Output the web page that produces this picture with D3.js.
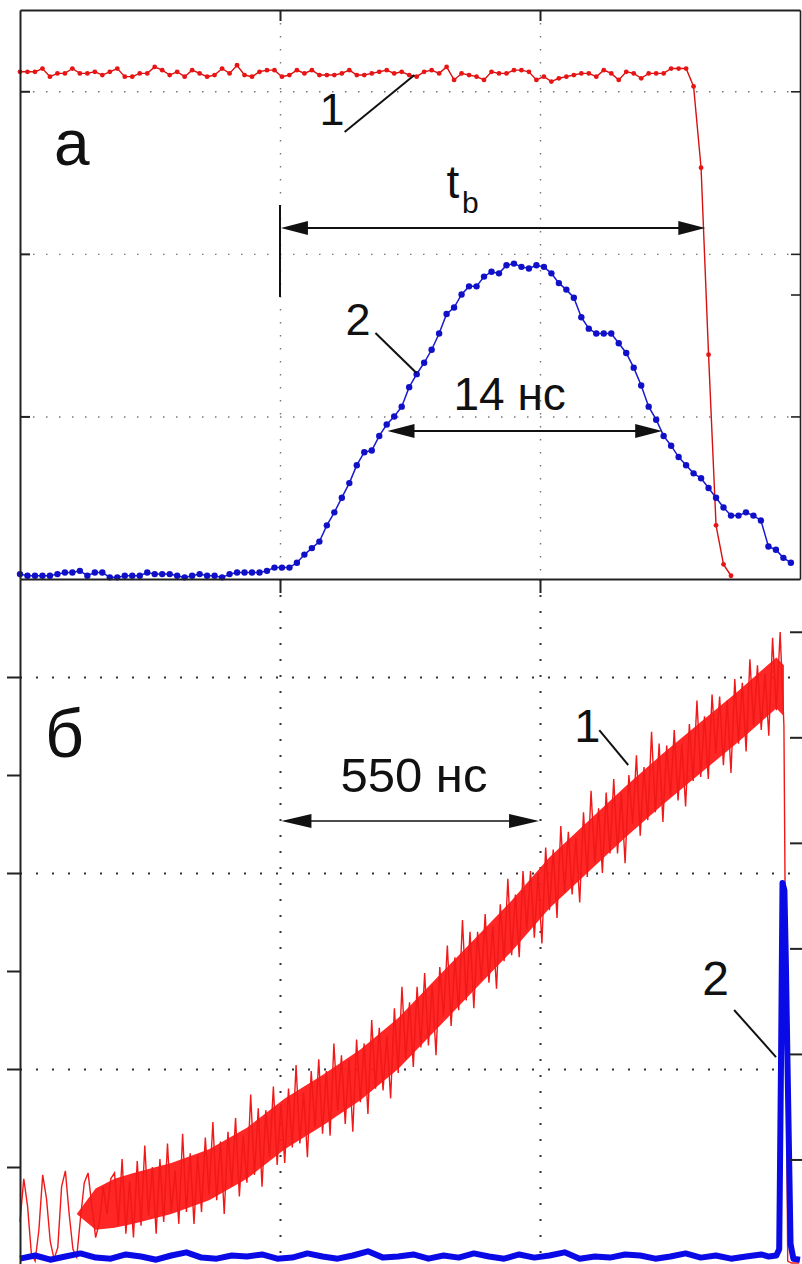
<!DOCTYPE html>
<html>
<head>
<meta charset="utf-8">
<script src="https://cdn.jsdelivr.net/npm/d3@7"></script>
<style>
  body { margin: 0; background: #fff; }
  text { font-family: "Liberation Sans", Arial, sans-serif; fill: #111; }
</style>
</head>
<body>
<script>
// ---------- panel а : both traces sampled every ~0.4 ns ----------
var dtA = 0.403;
var redA = [ // curve 1 (a.u.)
  312,312,312,314,309,311,311,314,311,311,312,310,312,314,309,309,311,311,315,313,
  310,312,309,313,311,309,310,314,311,316,310,309,312,313,313,309,310,313,311,313,
  310,310,310,311,313,310,310,311,312,313,
  311,312,310,309,312,313,311,315,307,311,310,309,307,312,311,311,313,313,312,307,
  309,306,308,309,310,311,311,309,313,311,307,312,311,308,311,311,311,314,314,314,
  303,253,138,33,9,2];
var blueA = [ // curve 2 (a.u.)
  3,2,2,2,2,3,4,4,5,2,4,4,1,1,2,2,2,4,3,3,3,2,1,2,3,2,2,1,3,4,4,4,4,5,
  7,7,7,10,15,19,23,33,41,50,59,70,78,79,88,95,100,106,118,126,
  133,141,151,163,167,175,180,180,186,189,188,193,194,192,191,193,192,188,182,178,
  173,161,154,151,151,151,145,139,130,119,106,98,88,82,75,70,65,62,56,50,
  44,39,39,41,39,36,20,18,13,10];

// ---------- panel б ----------
var dtB = 8; // ns, curve 1
var redB = [
  22,44,30,6,2,18,46,34,12,3,9,40,48,26,8,4,24,42,47,30,14,22,40,26,44,
  47,20,54,16,43,14,53,20,61,25, 50,16,54,22,62,27,48,21,67,27,
  57,21,56,27,65,36,73,33,63,26, 68,40,75,35,66,42,87,46,80,40,
  79,55,91,51,82,52,90,60,102,62, 88,55,99,70,105,67,99,66,113,79,
  107,72,105,68,115,83,113,77,125,90, 121,89,117,85,131,98,142,105,134,101,
  142,111,149,112,143,107,152,127,163,122, 157,130,176,135,170,131,170,145,179,144,
  173,141,184,155,197,158,189,157,201,171, 201,167,200,164,213,181,212,177,224,190,
  221,189,218,185,231,198,242,205,233,200, 241,210,248,210,241,205,250,225,260,219,
  254,227,272,231,266,226,265,239,273,237, 266,234,276,247,288,249,280,248,291,261,
  290,255,288,251,299,266,297,262,309,275, 306,273,302,270,320,283,323,275,
  2,1,1,1];
// dense core of curve 1
var redCoreT  = [120,160,200,240,320,400,480,560,640,720,800,880,960,1040,1120,1200,1280,1360,1440,1520,1600,1616];
var redCoreLo = [26,18,19,21,26,33,44,59,71,84,100,120,140,160,182,200,218,235,251,267,284,280];
var redCoreHi = [26,39,44,47,52,59,70,85,97,110,126,146,166,186,208,226,244,261,277,293,310,306];
// curve 2 (right axis)
var dtB2 = 32;
var blueBBase = [
  0.06,0.09,0.05,0.08,0.11,0.07,0.06,0.10,0.08,0.05,0.09,0.12,0.07,0.06,0.09,0.08,0.10,0.06,0.07,0.11,
  0.08,0.06,0.09,0.13,0.07,0.08,0.10,0.06,0.09,0.07,0.11,0.08,0.06,0.10,0.07,0.09,0.12,0.06,0.08,0.07,
  0.10,0.09,0.06,0.08,0.11,0.07,0.09,0.06,0.08,0.10];
var blueSpikeT = [1584,1600,1606,1610,1613,1617,1620,1624,1630,1636,1650];
var blueSpikeV = [0.08,0.09,0.15,2.0,3.62,3.55,2.9,1.8,0.2,0.06,0.05];

// ticks and grids
var gridTA = [14, 28];
var gridVA = [100, 200, 300];
var rightTicksA = [100, 175, 200, 300];
var gridTB = [550, 1100];
var gridVB = [100, 200, 300];
var leftTicksB = [50, 100, 150, 200, 250, 300];
var rightTicksB = [1, 2, 3, 4, 5, 6];

var svg = d3.select("body").append("svg").attr("width", 802).attr("height", 1264);
svg.append("rect").attr("width", 802).attr("height", 1264).attr("fill", "#fff");

var xa = d3.scaleLinear().domain([0, 42]).range([20, 800]);
var ya = d3.scaleLinear().domain([0, 350]).range([579, 10]);
var xb = d3.scaleLinear().domain([0, 1650]).range([20, 800]);
var yb = d3.scaleLinear().domain([0, 350]).range([1265, 579]);
var yb2 = d3.scaleLinear().domain([0, 6.5]).range([1265, 579]);

function noDomain(g) { g.select(".domain").remove(); }
function styleTicks(g, w) { g.selectAll("line").attr("stroke", "#222").attr("stroke-width", w); g.select(".domain").attr("stroke", "#222").attr("stroke-width", w); }

// ---- grids ----
svg.append("g").attr("transform", "translate(0,10)")
  .call(d3.axisBottom(xa).tickValues(gridTA).tickSize(569).tickFormat(""))
  .call(noDomain)
  .selectAll("line").attr("stroke", "#777").attr("stroke-width", 1.4).attr("stroke-dasharray", "1.5,11.5");
svg.append("g").attr("transform", "translate(20,0)")
  .call(d3.axisRight(ya).tickValues(gridVA).tickSize(780).tickFormat(""))
  .call(noDomain)
  .selectAll("line").attr("stroke", "#777").attr("stroke-width", 1.4).attr("stroke-dasharray", "1.5,11.5");
svg.append("g").attr("transform", "translate(0,579)")
  .call(d3.axisBottom(xb).tickValues(gridTB).tickSize(690).tickFormat(""))
  .call(noDomain)
  .selectAll("line").attr("stroke", "#333").attr("stroke-width", 2).attr("stroke-dasharray", "2,14");
svg.append("g").attr("transform", "translate(20,0)")
  .call(d3.axisRight(yb).tickValues(gridVB).tickSize(782).tickFormat(""))
  .call(noDomain)
  .selectAll("line").attr("stroke", "#333").attr("stroke-width", 2).attr("stroke-dasharray", "2,14");

// ---- panel б traces ----
var area = d3.area().x(function(d) { return xb(d[0]); })
  .y0(function(d) { return yb(d[1]); }).y1(function(d) { return yb(d[2]); });
svg.append("path")
  .datum(redCoreT.map(function(t, i) { return [t, redCoreLo[i], redCoreHi[i]]; }))
  .attr("d", area).attr("fill", "#ff1a1a").attr("fill-opacity", 0.95);

var lineB = d3.line().x(function(d) { return xb(d[0]); }).y(function(d) { return yb(d[1]); });
svg.append("path")
  .datum(redB.map(function(v, i) { return [i * dtB, v]; }))
  .attr("d", lineB).attr("fill", "none").attr("stroke", "#f01818").attr("stroke-width", 1.4);

var blueB = blueBBase.map(function(v, i) { return [i * dtB2, v]; })
  .concat(blueSpikeT.map(function(t, i) { return [t, blueSpikeV[i]]; }));
svg.append("path").datum(blueB)
  .attr("d", d3.line().x(function(d) { return xb(d[0]); }).y(function(d) { return yb2(d[1]); }))
  .attr("fill", "none").attr("stroke", "#0a0ae6").attr("stroke-width", 6).attr("stroke-linejoin", "round");

// ---- panel а traces ----
var lineA = d3.line().x(function(d) { return xa(d[0]); }).y(function(d) { return ya(d[1]); });
var redPts = redA.map(function(v, i) { return [i * dtA, v]; });
var bluePts = blueA.map(function(v, i) { return [i * dtA, v]; });

svg.append("path").datum(redPts).attr("d", lineA)
  .attr("fill", "none").attr("stroke", "#d81010").attr("stroke-width", 1.4);
svg.selectAll("circle.r").data(redPts).enter().append("circle").attr("class", "r")
  .attr("cx", function(d) { return xa(d[0]); }).attr("cy", function(d) { return ya(d[1]); })
  .attr("r", 2.4).attr("fill", "#e81414");

svg.append("path").datum(bluePts).attr("d", lineA)
  .attr("fill", "none").attr("stroke", "#1a1ad0").attr("stroke-width", 1.5);
svg.selectAll("circle.b").data(bluePts).enter().append("circle").attr("class", "b")
  .attr("cx", function(d) { return xa(d[0]); }).attr("cy", function(d) { return ya(d[1]); })
  .attr("r", 3.2).attr("fill", "#1010c8");

// ---- frames and ticks ----
svg.append("g").attr("transform", "translate(0,10)")
  .call(d3.axisBottom(xa).tickValues(gridTA).tickSize(11).tickSizeOuter(0).tickFormat(""))
  .call(styleTicks, 2);
svg.append("g").attr("transform", "translate(0,579)")
  .call(d3.axisBottom(xa).tickValues(gridTA).tickSize(14).tickSizeOuter(0).tickFormat(""))
  .call(styleTicks, 2);
svg.append("g").attr("transform", "translate(20,0)")
  .call(d3.axisRight(ya).tickValues(gridVA).tickSize(10).tickSizeOuter(0).tickFormat(""))
  .call(styleTicks, 2);
svg.append("g").attr("transform", "translate(800,0)")
  .call(d3.axisLeft(ya).tickValues(rightTicksA).tickSize(9).tickSizeOuter(0).tickFormat(""))
  .call(styleTicks, 1.6);
svg.append("g").attr("transform", "translate(20,0)")
  .call(d3.axisLeft(yb).tickValues(leftTicksB).tickSize(13).tickSizeOuter(0).tickFormat(""))
  .call(styleTicks, 2);
svg.append("g").attr("transform", "translate(802,0)")
  .call(d3.axisLeft(yb2).tickValues(rightTicksB).tickSize(12).tickFormat(""))
  .call(noDomain)
  .call(styleTicks, 2);

// ---- annotations ----
function label(txt, x, y, size) {
  return svg.append("text").attr("x", x).attr("y", y).attr("font-size", size).text(txt);
}
function leader(x1, y1, x2, y2) {
  svg.append("line").attr("x1", x1).attr("y1", y1).attr("x2", x2).attr("y2", y2)
    .attr("stroke", "#111").attr("stroke-width", 2);
}
function dblArrow(x1, x2, y, len, half, w) {
  svg.append("line").attr("x1", x1 + 4).attr("x2", x2 - 4).attr("y1", y).attr("y2", y)
    .attr("stroke", "#111").attr("stroke-width", w);
  svg.append("path").attr("d", "M" + x1 + "," + y + "L" + (x1 + len) + "," + (y - half) + "L" + (x1 + len) + "," + (y + half) + "Z").attr("fill", "#111");
  svg.append("path").attr("d", "M" + x2 + "," + y + "L" + (x2 - len) + "," + (y - half) + "L" + (x2 - len) + "," + (y + half) + "Z").attr("fill", "#111");
}

// panel а
label("а", xa(1.83), ya(254.7), 64);
label("1", xa(16.13), ya(279.3), 45);
leader(xa(17.48), ya(275), xa(21.24), ya(310));
label("t", xa(22.96), ya(234.4), 46);
label("b", xa(23.8), ya(225.1), 30);
dblArrow(xa(14.05), xa(36.9), ya(215.9), 27, 7, 2);
svg.append("line").attr("x1", xa(14)).attr("x2", xa(14)).attr("y1", ya(230.1)).attr("y2", ya(173.5))
  .attr("stroke", "#111").attr("stroke-width", 2);
label("2", xa(17.53), ya(150.1), 45);
leader(xa(19.14), ya(151.3), xa(21.35), ya(126.7));
label("14 нс", xa(23.34), ya(104), 46);
dblArrow(xa(19.79), xa(34.58), ya(91), 27, 7, 2);

// panel б
label("б", xb(52.8), yb(259.2), 68);
label("550 нс", xb(678), yb(241.3), 49);
dblArrow(xb(553), xb(1098), yb(226.5), 30, 7, 1.6);
label("1", xb(1172.5), yb(266.8), 47);
leader(xb(1225.4), yb(272.9), xb(1286.6), yb(255.1));
label("2", xb(1443), yb(137.8), 48);
leader(xb(1510.6), yb(130.1), xb(1599.3), yb(106.1));
</script>
</body>
</html>
